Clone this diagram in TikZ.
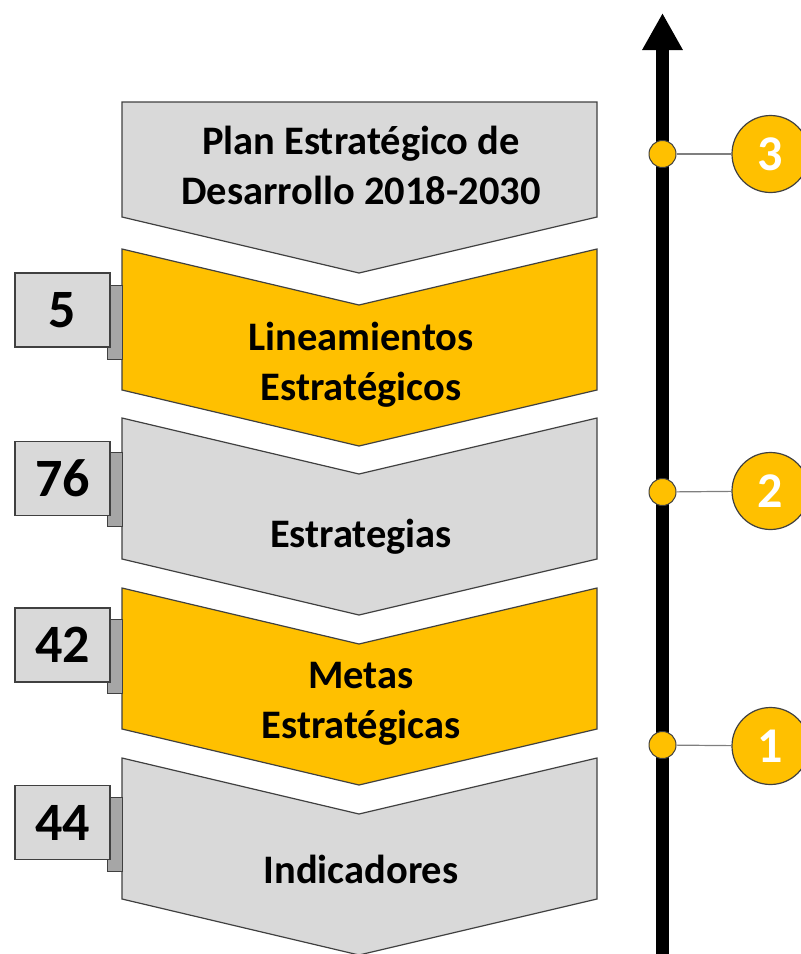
\documentclass[tikz,border=0pt]{standalone}
\usepackage{fontspec}
\setmainfont{Carlito}
\usetikzlibrary{arrows.meta}
\definecolor{gold}{HTML}{FFC000}
\definecolor{lgray}{HTML}{D9D9D9}
\definecolor{tabgray}{HTML}{A6A6A6}
\definecolor{edge}{HTML}{404040}
\definecolor{conn}{HTML}{7F7F7F}
\tikzset{
  chevgray/.style={fill=lgray, draw=edge, line width=1.2pt, line join=miter},
  chevgold/.style={fill=gold, draw=edge, line width=1.2pt, line join=miter},
  lbl/.style={font=\fontsize{40.5}{48}\selectfont\bfseries, inner sep=0pt, anchor=base, text=black},
  numbox/.style={rectangle, fill=lgray, draw=edge, line width=1.2pt, minimum width=95pt, minimum height=74pt, inner sep=0pt, font=\fontsize{54}{60}\selectfont\bfseries},
  tabbox/.style={rectangle, fill=tabgray, draw=edge, line width=1pt, minimum width=15pt, minimum height=74pt, inner sep=0pt},
  tdot/.style={circle, fill=gold, draw=edge, line width=1pt, minimum size=27pt, inner sep=0pt},
  bigc/.style={circle, fill=gold, draw=edge, line width=1.2pt, minimum size=77pt, inner sep=0pt, text=white, font=\fontsize{50}{56}\selectfont\bfseries},
  connline/.style={draw=conn, line width=1.2pt}
}
\begin{document}
\begin{tikzpicture}[x=1pt, y=-1pt]
\useasboundingbox (0,0) rectangle (801,954);
% chevrons
\draw[chevgray] (122,102) -- (597,102) -- (597,217) -- (359,273) -- (122,217) -- cycle;
\foreach \t/\s in {249/chevgold, 418/chevgray, 588/chevgold, 758/chevgray}{
  \draw[\s] (122,\t) -- (359,\t+56) -- (597,\t) -- (597,\t+141) -- (359,\t+197) -- (122,\t+141) -- cycle;
}
% chevron texts
\node[lbl] (t1a) at (361,154) {Plan Estratégico de};
\node[lbl] (t1b) at (361,204) {Desarrollo 2018-2030};
\node[lbl] (t2a) at (361,350) {Lineamientos};
\node[lbl] (t2b) at (361,400) {Estratégicos};
\node[lbl] (t3a) at (361,547) {Estrategias};
\node[lbl] (t4a) at (361,688) {Metas};
\node[lbl] (t4b) at (361,738) {Estratégicas};
\node[lbl] (t5a) at (361,883) {Indicadores};
% number boxes with tabs
\node[tabbox] (tab1) at (114.5,322.5) {};
\node[numbox] (n1) at (62.5,310) {5};
\node[tabbox] (tab2) at (114.5,489.5) {};
\node[numbox] (n2) at (62.5,478.5) {76};
\node[tabbox] (tab3) at (114.5,656) {};
\node[numbox] (n3) at (62.5,645) {42};
\node[tabbox] (tab4) at (114.5,834.5) {};
\node[numbox] (n4) at (62.5,822.5) {44};
% timeline
\coordinate (tlbot) at (662.5,960);
\coordinate (tltop) at (662.5,13);
\draw[line width=13pt, -{Triangle[width=38pt,length=37pt]}] (tlbot) -- (tltop);
% milestones
\node[tdot] (d3) at (662.5,154) {};
\node[tdot] (d2) at (662.5,492) {};
\node[tdot] (d1) at (662.5,745) {};
\node[bigc] (c3) at (770.5,154) {3};
\node[bigc] (c2) at (770.5,491) {2};
\node[bigc] (c1) at (770.5,746) {1};
\draw[connline] (d3) -- (c3);
\draw[connline] (d2) -- (c2);
\draw[connline] (d1) -- (c1);
\end{tikzpicture}
\end{document}
